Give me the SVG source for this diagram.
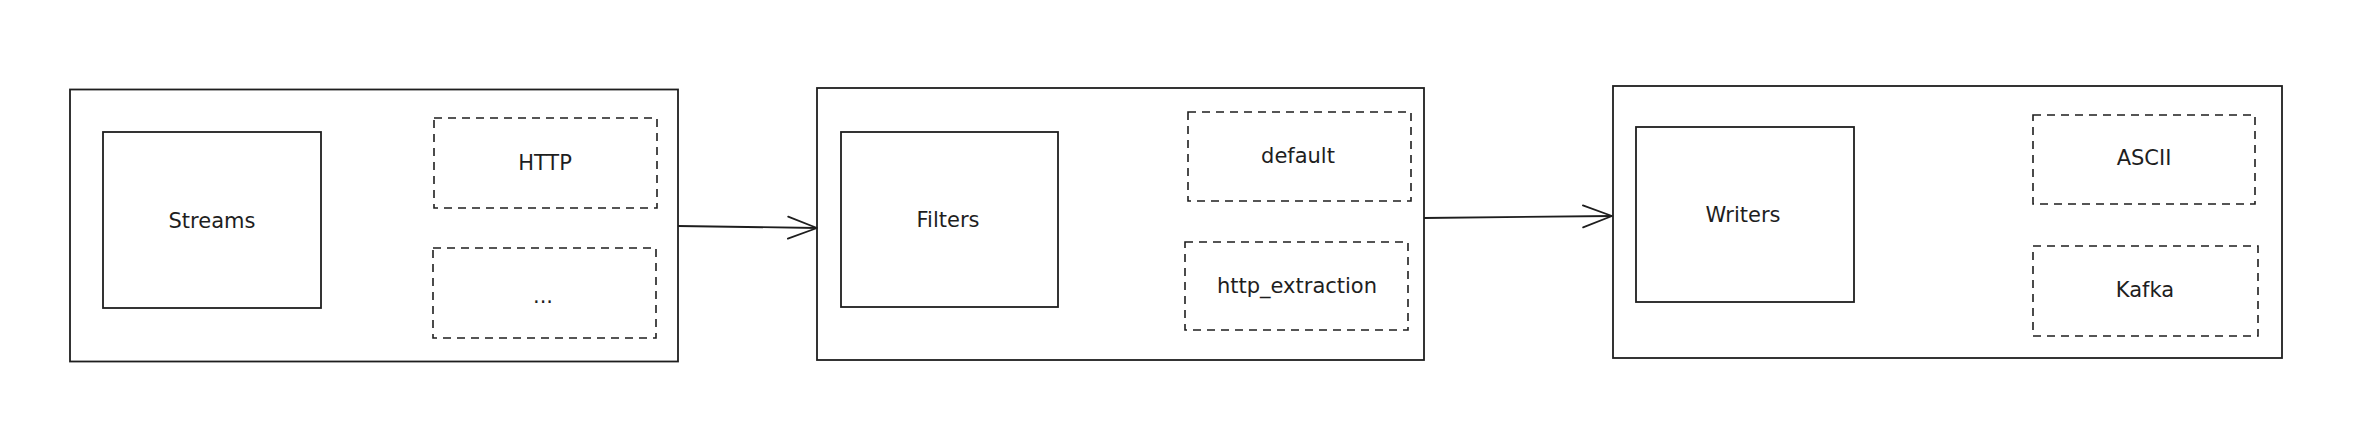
<svg xmlns="http://www.w3.org/2000/svg" width="2354" height="422" viewBox="0 0 2354 422">
<defs>
<style>
.outer{fill:#ffffff;stroke:#1e1e1e;stroke-width:1.8}
.inner{fill:#ffffff;stroke:#1e1e1e;stroke-width:1.8}
.dash{fill:none;stroke:#1e1e1e;stroke-width:1.6;stroke-dasharray:8 6}
.lbl{font-family:"DejaVu Sans","Liberation Sans",sans-serif;font-size:21px;fill:#1e1e1e;text-anchor:middle;dominant-baseline:central}
.conn{fill:none;stroke:#1e1e1e;stroke-width:1.8}
</style>
<marker id="arr" markerUnits="userSpaceOnUse" markerWidth="34" markerHeight="28" viewBox="0 0 34 28" refX="31" refY="14" orient="auto">
<path d="M2,3 L31,14 L2,25" fill="none" stroke="#1e1e1e" stroke-width="1.8" stroke-linecap="round" stroke-linejoin="round"/>
</marker>
</defs>
<rect width="2354" height="422" fill="#ffffff"/>

<g id="streams-group">
<rect class="outer" x="70" y="89.5" width="608" height="272"/>
<g id="streams">
<rect class="inner" x="103" y="132" width="218" height="176"/>
<text class="lbl" x="212" y="221">Streams</text>
</g>
<g id="http">
<rect class="dash" x="434" y="118" width="223" height="90"/>
<text class="lbl" x="545" y="163">HTTP</text>
</g>
<g id="more">
<rect class="dash" x="433" y="248" width="223" height="90"/>
<text class="lbl" x="543" y="296">...</text>
</g>
</g>

<g id="filters-group">
<rect class="outer" x="817" y="88" width="607" height="272"/>
<g id="filters">
<rect class="inner" x="841" y="132" width="217" height="175"/>
<text class="lbl" x="948" y="220">Filters</text>
</g>
<g id="default">
<rect class="dash" x="1188" y="112" width="223" height="89"/>
<text class="lbl" x="1298" y="156">default</text>
</g>
<g id="http_extraction">
<rect class="dash" x="1185" y="242" width="223" height="88"/>
<text class="lbl" x="1297" y="286">http_extraction</text>
</g>
</g>

<g id="writers-group">
<rect class="outer" x="1613" y="86" width="669" height="272"/>
<g id="writers">
<rect class="inner" x="1636" y="127" width="218" height="175"/>
<text class="lbl" x="1743" y="215">Writers</text>
</g>
<g id="ascii">
<rect class="dash" x="2033" y="115" width="222" height="89"/>
<text class="lbl" x="2144" y="158">ASCII</text>
</g>
<g id="kafka">
<rect class="dash" x="2033" y="246" width="225" height="90"/>
<text class="lbl" x="2145" y="290">Kafka</text>
</g>
</g>

<g id="connectors">
<path class="conn" d="M678,226 L817,228" marker-end="url(#arr)"/>
<path class="conn" d="M1424,218 L1612,216" marker-end="url(#arr)"/>
</g>
</svg>
